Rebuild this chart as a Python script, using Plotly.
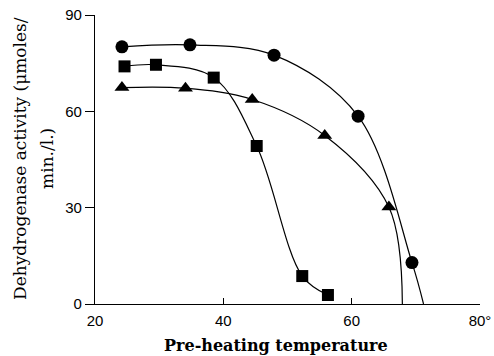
import plotly.graph_objects as go

# Data
circle_t = [24.2, 34.8, 47.9, 61.0, 69.4]
circle_v = [80.1, 80.7, 77.5, 58.5, 12.9]
circle_end_t = [71.2]
circle_end_v = [0]

square_t = [24.6, 29.5, 38.5, 45.2, 52.3, 56.3]
square_v = [74.0, 74.5, 70.5, 49.2, 8.7, 2.8]

triangle_t = [24.2, 34.1, 44.5, 55.8, 65.8]
triangle_v = [67.4, 67.2, 63.7, 52.5, 30.2]
triangle_end_t = [67.9]
triangle_end_v = [0]

x_ticks = [20, 40, 60, 80]
x_labels = ["20", "40", "60", "80°"]
y_ticks = [0, 30, 60, 90]

fig = go.Figure()
line_style = dict(color="black", width=1.2, shape="spline", smoothing=1.0)

fig.add_trace(go.Scatter(x=circle_t + circle_end_t, y=circle_v + circle_end_v,
                         mode="lines", line=line_style, showlegend=False, hoverinfo="skip"))
fig.add_trace(go.Scatter(x=square_t, y=square_v,
                         mode="lines", line=line_style, showlegend=False, hoverinfo="skip"))
fig.add_trace(go.Scatter(x=triangle_t + triangle_end_t, y=triangle_v + triangle_end_v,
                         mode="lines", line=line_style, showlegend=False, hoverinfo="skip"))

fig.add_trace(go.Scatter(x=circle_t, y=circle_v, mode="markers",
                         marker=dict(symbol="circle", size=13, color="black"), showlegend=False))
fig.add_trace(go.Scatter(x=square_t, y=square_v, mode="markers",
                         marker=dict(symbol="square", size=12, color="black"), showlegend=False))
fig.add_trace(go.Scatter(x=triangle_t, y=triangle_v, mode="markers",
                         marker=dict(symbol="triangle-up", size=13, color="black"), showlegend=False))

tick_font = dict(family="Liberation Sans", size=15, color="black")
title_font = dict(family="DejaVu Serif", size=16, color="black")
ytitle_font = dict(family="DejaVu Serif", size=17, color="black")

fig.update_layout(
    template="none",
    width=494, height=356,
    margin=dict(l=95, r=14, t=15, b=52, autoexpand=False),
    plot_bgcolor="white", paper_bgcolor="white",
    xaxis=dict(range=[20, 80], tickvals=x_ticks, ticktext=x_labels, automargin=False,
               showgrid=False, zeroline=False, showline=True, linecolor="black", linewidth=1.2,
               ticks="inside", ticklen=6, tickcolor="black", tickwidth=1.2,
               tickfont=tick_font, ticklabelstandoff=3),
    yaxis=dict(range=[0, 90], tickvals=y_ticks, automargin=False,
               showgrid=False, zeroline=False, showline=True, linecolor="black", linewidth=1.2,
               ticks="outside", ticklen=9, tickcolor="black", tickwidth=1.2,
               tickfont=tick_font),
    annotations=[
        dict(text="<b>Pre-heating temperature</b>", xref="paper", yref="paper",
             x=0.47, y=-0.142, xanchor="center", yanchor="middle", showarrow=False,
             font=title_font),
        dict(text="Dehydrogenase activity (μmoles/", xref="paper", yref="paper",
             x=-0.195, y=0.505, xanchor="center", yanchor="middle", showarrow=False,
             textangle=-90, font=ytitle_font),
        dict(text="min./l.)", xref="paper", yref="paper",
             x=-0.125, y=0.505, xanchor="center", yanchor="middle", showarrow=False,
             textangle=-90, font=ytitle_font),
    ],
)

fig.write_html("out.html", config={"displayModeBar": False},
               post_script="document.body.style.margin='0';document.body.style.overflow='hidden';")
